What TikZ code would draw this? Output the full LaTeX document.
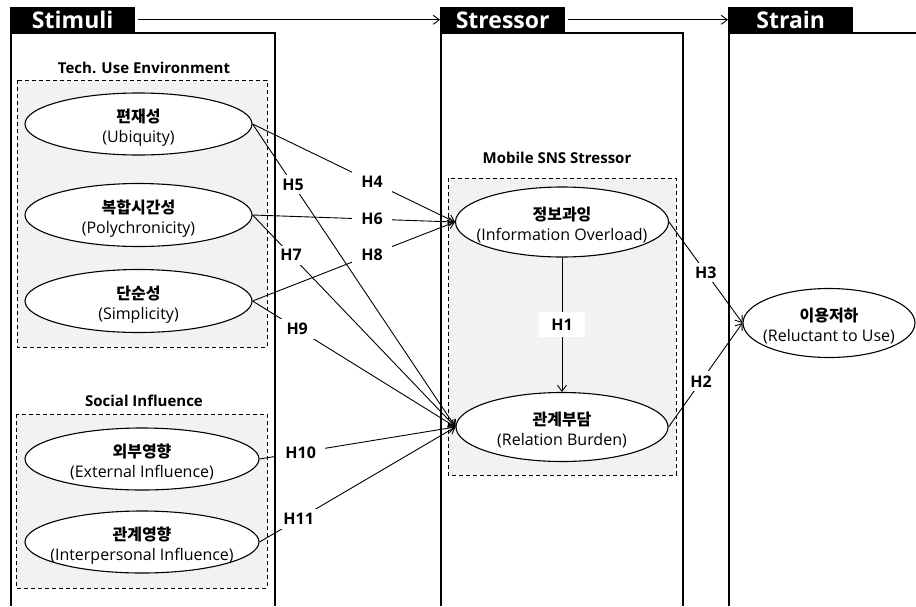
\documentclass[tikz,border=0pt]{standalone}
\usepackage{fontspec}
\setmainfont{Open Sans}
\newfontfamily\kor{Noto Sans CJK KR}
\usetikzlibrary{shapes.geometric}
\usetikzlibrary{arrows.meta}

\newcommand{\conslabel}[2]{\makebox[0pt]{\raisebox{-18pt}[0pt][0pt]{\begin{tabular}[b]{@{}c@{}}{\kor\bfseries #1}\\#2\end{tabular}}}}

\begin{document}
\begin{tikzpicture}[x=1pt, y=-1pt, >={Straight Barb[length=6pt, width=9pt]},
		every node/.style={font=\fontsize{16}{20}\selectfont},
		cons/.style={ellipse, draw, line width=1.1pt, fill=white, inner sep=0pt},
		group/.style={draw, line width=.8pt, dash pattern=on 4pt off 3pt, fill=black!5},
		tab/.style={fill=black, text=white, font=\fontsize{23}{23}\selectfont\bfseries, minimum width=125pt, minimum height=26pt, inner sep=0pt},
		frame/.style={line width=2.6pt},
		title/.style={font=\fontsize{15}{17}\selectfont\bfseries},
		hyp/.style={fill=white, font=\fontsize{16}{17}\selectfont\bfseries, inner xsep=9pt, inner ysep=4pt},
		link/.style={->, line width=.9pt}]
		\useasboundingbox (0,0) rectangle (916,606);
		%Gruppen
		\draw[group] (17,80) rectangle (267,347);
		\draw[group] (16,414) rectangle (267,588);
		\draw[group] (448,178) rectangle (676,475);
		\node (tech) [title] at (144,68) {Tech. Use Environment};
		\node (social) [title] at (144,401) {Social Influence};
		\node (mobile) [title] at (557,158) {Mobile SNS Stressor};
		%Konstrukte
		\node (ubi) [cons, minimum width=227pt, minimum height=62pt] at (138.5,124) {\conslabel{편재성}{(Ubiquity)}};
		\node (poly) [cons, minimum width=227pt, minimum height=63pt] at (138.5,215) {\conslabel{복합시간성}{(Polychronicity)}};
		\node (simp) [cons, minimum width=227pt, minimum height=63pt] at (138.5,301) {\conslabel{단순성}{(Simplicity)}};
		\node (ext) [cons, minimum width=234pt, minimum height=62pt] at (142,459) {\conslabel{외부영향}{(External Influence)}};
		\node (inter) [cons, minimum width=234pt, minimum height=62pt] at (142,542) {\conslabel{관계영향}{(Interpersonal Influence)}};
		\node (info) [cons, minimum width=213pt, minimum height=70pt] at (562,222) {\conslabel{정보과잉}{(Information Overload)}};
		\node (burd) [cons, minimum width=212pt, minimum height=69pt] at (562,427) {\conslabel{관계부담}{(Relation Burden)}};
		\node (relu) [cons, minimum width=172pt, minimum height=69pt] at (829,323) {\conslabel{이용저하}{(Reluctant to Use)}};
		%Hypothesen
		\draw[link] (ubi.east) -- node (h4) [hyp, pos=.59] {H4} (info.west);
		\draw[link] (ubi.east) -- node (h5) [hyp, pos=.2] {H5} (burd.west);
		\draw[link] (poly.east) -- node (h6) [hyp, pos=.59] {H6} (info.west);
		\draw[link] (poly.east) -- node (h7) [hyp, pos=.19] {H7} (burd.west);
		\draw[link] (simp.east) -- node (h8) [hyp, pos=.59] {H8} (info.west);
		\draw[link] (simp.east) -- node (h9) [hyp, pos=.22] {H9} (burd.west);
		\draw[link] (ext.east) -- node (h10) [hyp, pos=.21] {H10} (burd.west);
		\draw[link] (inter.east) -- node (h11) [hyp, pos=.2] {H11} (burd.west);
		\draw[link] (info.south) -- node (h1) [hyp, inner xsep=12pt, inner ysep=7pt] {H1} (burd.north);
		\draw[link] (info.east) -- node (h3) [hyp, pos=.5] {H3} (relu.west);
		\draw[link] (burd.east) -- node (h2) [hyp, pos=.44] {H2} (relu.west);
		%Rahmen
		\draw[frame] (11,606) -- (11,33) -- (275,33) -- (275,606);
		\draw[frame] (441,606) -- (441,33) -- (683,33) -- (683,606);
		\draw[frame] (729,606) -- (729,33) -- (916,33);
		\node (stim) [tab, anchor=south west] at (10,33) {Stimuli};
		\node (stres) [tab, anchor=south west] at (440,33) {Stressor};
		\node (strain) [tab, anchor=south west] at (728,33) {Strain};
		\draw[link, shorten <=3pt] (stim) -- (stres);
		\draw[link, shorten <=3pt] (stres) -- (strain);
	\end{tikzpicture}
\end{document}
